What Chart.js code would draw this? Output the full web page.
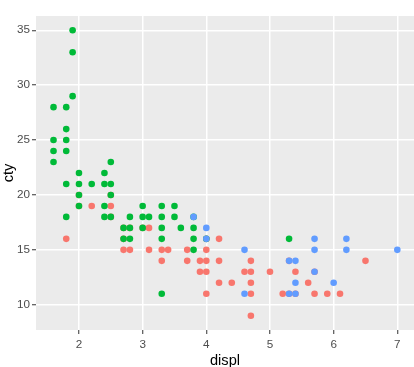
<!DOCTYPE html>
<html>
<head>
<meta charset="utf-8">
<script src="https://cdn.jsdelivr.net/npm/chart.js@4"></script>
<style>
  html, body { margin: 0; padding: 0; background: #fff; }
  #wrap { width: 414px; height: 367px; }
</style>
</head>
<body>
<div id="wrap"><canvas id="chart" width="414" height="367"></canvas></div>
<script>
// displ vs cty, one pair of arrays per drv group
const displ4 = [1.8, 2.0, 2.0, 2.2, 2.5, 2.5, 2.5, 2.7, 2.7, 2.7, 2.8, 2.8, 3.0, 3.1, 3.1, 3.3, 3.3, 3.4, 3.7, 3.7,
                3.9, 3.9, 4.0, 4.0, 4.0, 4.0, 4.0, 4.2, 4.2, 4.2, 4.4, 4.6, 4.7, 4.7, 4.7, 4.7, 4.7, 5.0, 5.2, 5.3,
                5.3, 5.4, 5.4, 5.6, 5.7, 5.7, 5.9, 6.1, 6.5];
const cty4   = [16, 20, 19, 19, 20, 19, 18, 15, 16, 17, 15, 17, 17, 17, 15, 15, 14, 15, 15, 14,
                14, 13, 16, 15, 14, 13, 11, 16, 14, 12, 12, 13, 14, 13, 12, 11, 9, 13, 11, 14,
                11, 13, 11, 12, 13, 11, 11, 11, 14];

const displF = [1.6, 1.6, 1.6, 1.6, 1.8, 1.8, 1.8, 1.8, 1.8, 1.8, 1.9, 1.9, 1.9, 2.0, 2.0, 2.0, 2.0, 2.2,
                2.4, 2.4, 2.4, 2.4, 2.5, 2.5, 2.5, 2.5, 2.7, 2.7, 2.8, 2.8, 2.8, 3.0, 3.0, 3.0, 3.1,
                3.3, 3.3, 3.3, 3.3, 3.3, 3.5, 3.5, 3.6, 3.8, 3.8, 3.8, 3.8, 4.0, 5.3];
const ctyF   = [28, 25, 24, 23, 28, 26, 25, 24, 21, 18, 35, 33, 29, 22, 21, 20, 19, 21,
                22, 21, 19, 18, 23, 21, 20, 18, 17, 16, 18, 17, 16, 19, 18, 17, 18,
                19, 18, 17, 16, 11, 19, 18, 17, 18, 17, 16, 15, 16, 16];

const displR = [3.8, 4.0, 4.0, 4.6, 4.6, 5.3, 5.3, 5.4, 5.4, 5.4, 5.7, 5.7, 5.7, 6.0, 6.2, 6.2, 7.0];
const ctyR   = [18, 17, 16, 15, 11, 14, 11, 14, 12, 11, 16, 15, 13, 12, 16, 15, 15];

const xTicks = [2, 3, 4, 5, 6, 7];
const yTicks = [10, 15, 20, 25, 30, 35];

const toPoints = (xs, ys) => xs.map((x, i) => ({ x: x, y: ys[i] }));

const panelBg = {
  id: 'panelBg',
  beforeDraw(chart) {
    const { ctx, chartArea: a } = chart;
    ctx.save();
    ctx.fillStyle = '#EBEBEB';
    ctx.fillRect(a.left, a.top, a.right - a.left, a.bottom - a.top);
    ctx.restore();
  }
};

const font = { family: '"Liberation Sans", Arial, sans-serif', size: 11.7 };
const titleFont = { family: '"Liberation Sans", Arial, sans-serif', size: 14.6 };

function dataset(label, pts, color, order) {
  return {
    label: label,
    data: pts,
    backgroundColor: color,
    borderWidth: 0,
    pointRadius: 3.3,
    order: order
  };
}

new Chart(document.getElementById('chart'), {
  type: 'scatter',
  data: {
    datasets: [
      dataset('4', toPoints(displ4, cty4), '#F8766D', 3),
      dataset('f', toPoints(displF, ctyF), '#00BA38', 2),
      dataset('r', toPoints(displR, ctyR), '#619CFF', 1)
    ]
  },
  options: {
    responsive: false,
    animation: false,
    layout: { autoPadding: false, padding: { top: 16, right: 0, left: 0, bottom: 0 } },
    plugins: { legend: { display: false }, tooltip: { enabled: false } },
    scales: {
      x: {
        type: 'linear',
        min: 1.325,
        max: 7.262,
        afterBuildTicks: s => { s.ticks = xTicks.map(v => ({ value: v })); },
        afterFit: s => { s.height = 37; },
        grid: { color: '#fff', lineWidth: 1.5, tickColor: '#333', tickWidth: 1, tickLength: 4 },
        border: { display: false },
        ticks: { color: '#4D4D4D', font: font, padding: 4, maxRotation: 0 },
        title: { display: true, text: 'displ', color: '#000', font: titleFont, padding: { top: 0, bottom: -3 } }
      },
      y: {
        type: 'linear',
        min: 7.7,
        max: 36.3,
        afterBuildTicks: s => { s.ticks = yTicks.map(v => ({ value: v })); },
        afterFit: s => { s.width = 36; },
        grid: { color: '#fff', lineWidth: 1.5, tickColor: '#333', tickWidth: 1, tickLength: 4 },
        border: { display: false },
        ticks: { color: '#4D4D4D', font: font, padding: 2 },
        title: { display: true, text: 'cty', color: '#000', font: titleFont, padding: { top: 0, bottom: 0 } }
      }
    }
  },
  plugins: [panelBg]
});
</script>
</body>
</html>
